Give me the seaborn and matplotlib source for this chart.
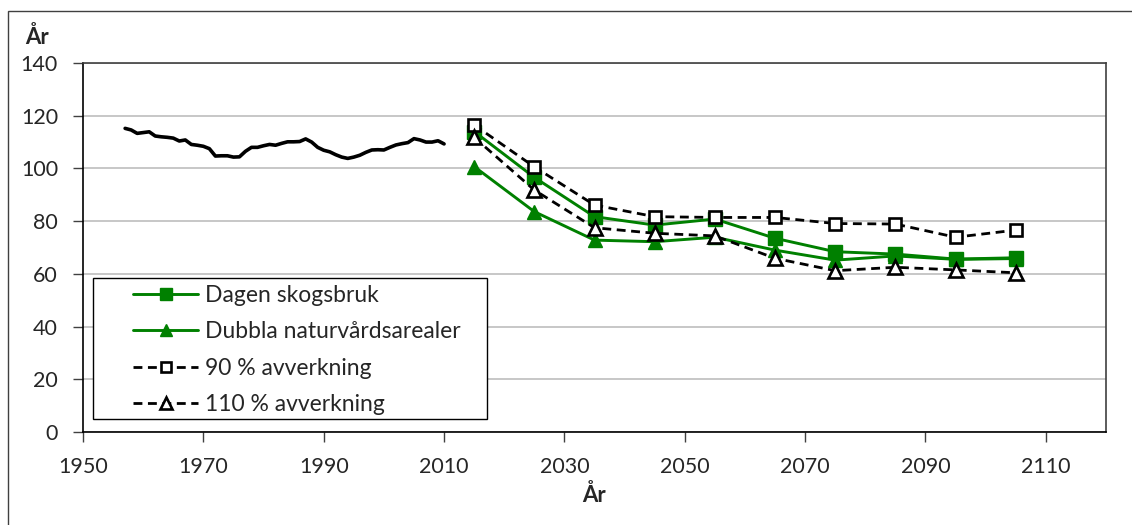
import numpy as np
import pandas as pd
import matplotlib
matplotlib.use('Agg')
import matplotlib.pyplot as plt
from matplotlib.patches import Rectangle
import seaborn as sns

# Historisk medelålder (ungefär avläst)
hist_ar = list(range(1957, 2011))
hist_varde = [115.2, 114.6, 113.3, 113.6, 113.9, 112.3, 112.0, 111.8, 111.5, 110.4,
              110.8, 109.1, 108.8, 108.4, 107.5, 104.7, 104.8, 104.8, 104.3, 104.4,
              106.5, 108.0, 108.0, 108.6, 109.1, 108.8, 109.5, 110.1, 110.1, 110.2,
              111.2, 110.0, 108.0, 106.9, 106.3, 105.2, 104.3, 103.8, 104.3, 105.0,
              106.1, 107.0, 107.1, 107.0, 108.0, 108.9, 109.4, 109.8, 111.3, 110.8,
              110.0, 110.0, 110.5, 109.3]

# Prognoser
prog_ar = [2015, 2025, 2035, 2045, 2055, 2065, 2075, 2085, 2095, 2105]
dagen = [114.0, 96.6, 81.7, 78.5, 80.8, 73.5, 68.4, 67.5, 65.6, 66.1]
dubbla = [100.7, 83.6, 72.8, 72.2, 73.9, 69.0, 65.2, 66.8, 65.5, 65.8]
avv90 = [116.5, 100.6, 86.1, 81.7, 81.4, 81.4, 79.1, 78.9, 73.9, 76.6]
avv110 = [111.8, 91.8, 77.5, 75.4, 74.4, 65.9, 61.2, 62.5, 61.5, 60.4]

x_ticks = list(range(1950, 2111, 20))
y_ticks = list(range(0, 141, 20))

sns.set_style('white')
plt.rcParams['font.family'] = ['Lato', 'DejaVu Sans']

fig = plt.figure(figsize=(11.32, 5.25), dpi=100)
ax = fig.add_axes([83/1132, 93/525, 1023/1132, 369/525])

gron = '#008000'
sns.lineplot(x=hist_ar, y=hist_varde, color='black', linewidth=2.6, ax=ax, zorder=3)

sns.lineplot(x=prog_ar, y=dagen, color=gron, linewidth=2.1, marker='s', markersize=9.4,
             markerfacecolor=gron, markeredgecolor=gron, markeredgewidth=1,
             label='Dagen skogsbruk', ax=ax, zorder=3)
sns.lineplot(x=prog_ar, y=dubbla, color=gron, linewidth=2.1, marker='^', markersize=10.5,
             markerfacecolor=gron, markeredgecolor=gron, markeredgewidth=1,
             label='Dubbla naturvårdsarealer', ax=ax, zorder=3)
sns.lineplot(x=prog_ar, y=avv90, color='black', linewidth=2.0, linestyle=(0, (3.2, 2)),
             marker='s', markersize=9, markerfacecolor='white', markeredgecolor='black',
             markeredgewidth=1.9, label='90 % avverkning', ax=ax, zorder=4)
sns.lineplot(x=prog_ar, y=avv110, color='black', linewidth=2.0, linestyle=(0, (3.2, 2)),
             marker='^', markersize=10, markerfacecolor='white', markeredgecolor='black',
             markeredgewidth=1.9, label='110 % avverkning', ax=ax, zorder=4)

ax.set_xlim(1950, 2120)
ax.set_ylim(0, 140)
ax.set_xticks(x_ticks)
ax.set_yticks(y_ticks)
ax.tick_params(axis='both', direction='out', length=7, width=1, color='#404040',
               labelsize=15.5, bottom=True, left=True)
ax.tick_params(axis='x', pad=11)
ax.tick_params(axis='y', pad=11)
ax.yaxis.grid(True, color='#bdbdbd', linewidth=1.2)
ax.xaxis.grid(False)
ax.set_axisbelow(True)
for s in ['left', 'bottom']:
    ax.spines[s].set_color('black')
    ax.spines[s].set_linewidth(1.2)
for s in ['top', 'right']:
    ax.spines[s].set_color('#404040')
    ax.spines[s].set_linewidth(1.2)

ax.set_xlabel('År', fontsize=16, fontweight='bold', labelpad=5)
ax.set_ylabel('')
fig.text(25/1132, 1 - 37/525, 'År', fontsize=16, fontweight='bold', va='center', ha='left')

# legendruta
ax.add_patch(Rectangle((10/1023, 13/369), 394/1023, 141/369, transform=ax.transAxes,
                       facecolor='white', edgecolor='black', linewidth=1, zorder=5))
handles, labels = ax.get_legend_handles_labels()
leg = ax.legend(handles, labels, loc='upper left', bbox_to_anchor=(50/1023, 1 - 222/369),
                frameon=False, fontsize=16.5, handlelength=2.84, handletextpad=0.3,
                labelspacing=0.67, borderpad=0, borderaxespad=0, markerscale=0.85)
leg.set_zorder(6)

# ram runt hela figuren
fig.patches.append(Rectangle((8/1132, -0.1), 1.2, 1.1 - 11/525, transform=fig.transFigure,
                             fill=False, edgecolor='#404040', linewidth=1))

fig.savefig('out.png', dpi=100)
